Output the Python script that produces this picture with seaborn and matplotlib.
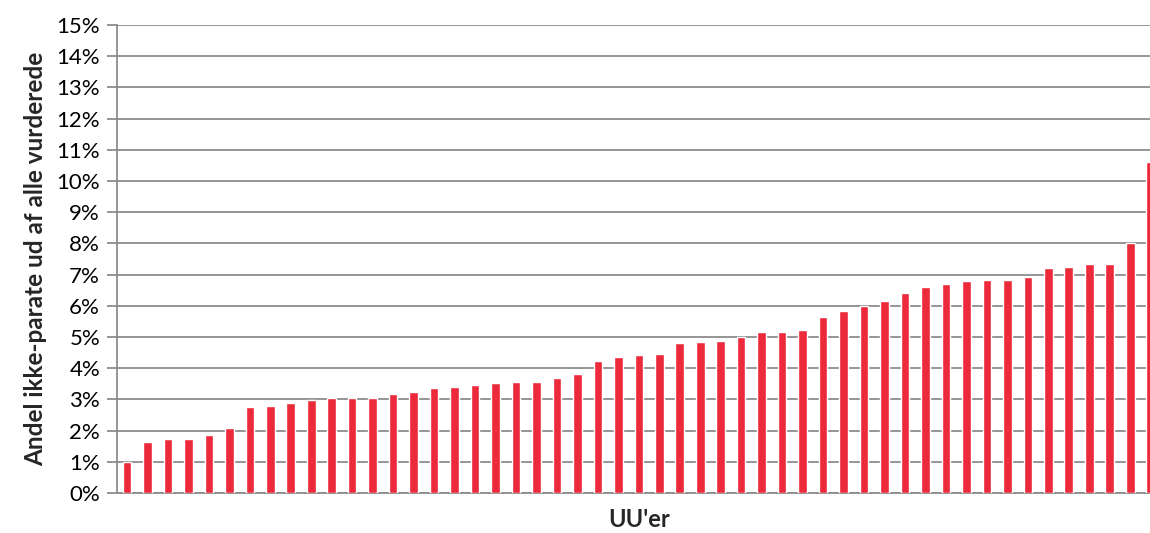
import seaborn as sns
import matplotlib.pyplot as plt
import pandas as pd
from matplotlib.ticker import FuncFormatter

# share of "ikke-parate" per UU centre (percent)
andel = [1.0, 1.65, 1.72, 1.73, 1.87, 2.08, 2.75, 2.8, 2.9, 2.97,
         3.03, 3.06, 3.06, 3.17, 3.25, 3.37, 3.4, 3.47, 3.52, 3.55,
         3.57, 3.7, 3.8, 4.22, 4.35, 4.42, 4.47, 4.8, 4.85, 4.88,
         5.0, 5.15, 5.17, 5.22, 5.65, 5.82, 6.0, 6.15, 6.4, 6.6,
         6.7, 6.8, 6.82, 6.82, 6.93, 7.2, 7.23, 7.35, 7.35, 8.0,
         10.6]
uu = [f"UU{i + 1}" for i in range(len(andel))]

df = pd.DataFrame({"uu": uu, "andel": andel})

sns.set_style("white")
plt.rcParams["font.family"] = ["Lato", "DejaVu Sans"]

fig = plt.figure(figsize=(11.5, 5.33), dpi=100)
ax = fig.add_axes([0.1015, 0.075, 0.908, 0.878])

sns.barplot(data=df, x="uu", y="andel", color="#EC2A3B",
            width=0.42, saturation=1, ax=ax, zorder=3)

ax.set_ylim(0, 15)
ax.set_yticks(range(0, 16))
ax.yaxis.set_major_formatter(FuncFormatter(lambda v, p: f"{v:.0f}%"))
ax.grid(axis="y", color="#8C8C8C", linewidth=1.3, zorder=0)
ax.set_axisbelow(True)

for s in ["top", "right"]:
    ax.spines[s].set_visible(False)
for s in ["left", "bottom"]:
    ax.spines[s].set_color("#8C8C8C")
    ax.spines[s].set_linewidth(1.3)

ax.tick_params(axis="y", left=True, length=7, width=1.3, color="#8C8C8C",
               labelsize=16, pad=5, labelcolor="black")
ax.set_xticks([])

ax.set_ylabel("Andel ikke-parate ud af alle vurderede", fontsize=17.5,
              fontweight="bold", labelpad=7)
ax.set_xlabel("UU'er", fontsize=17, fontweight="bold", labelpad=11)

fig.savefig("out.png", dpi=100)
